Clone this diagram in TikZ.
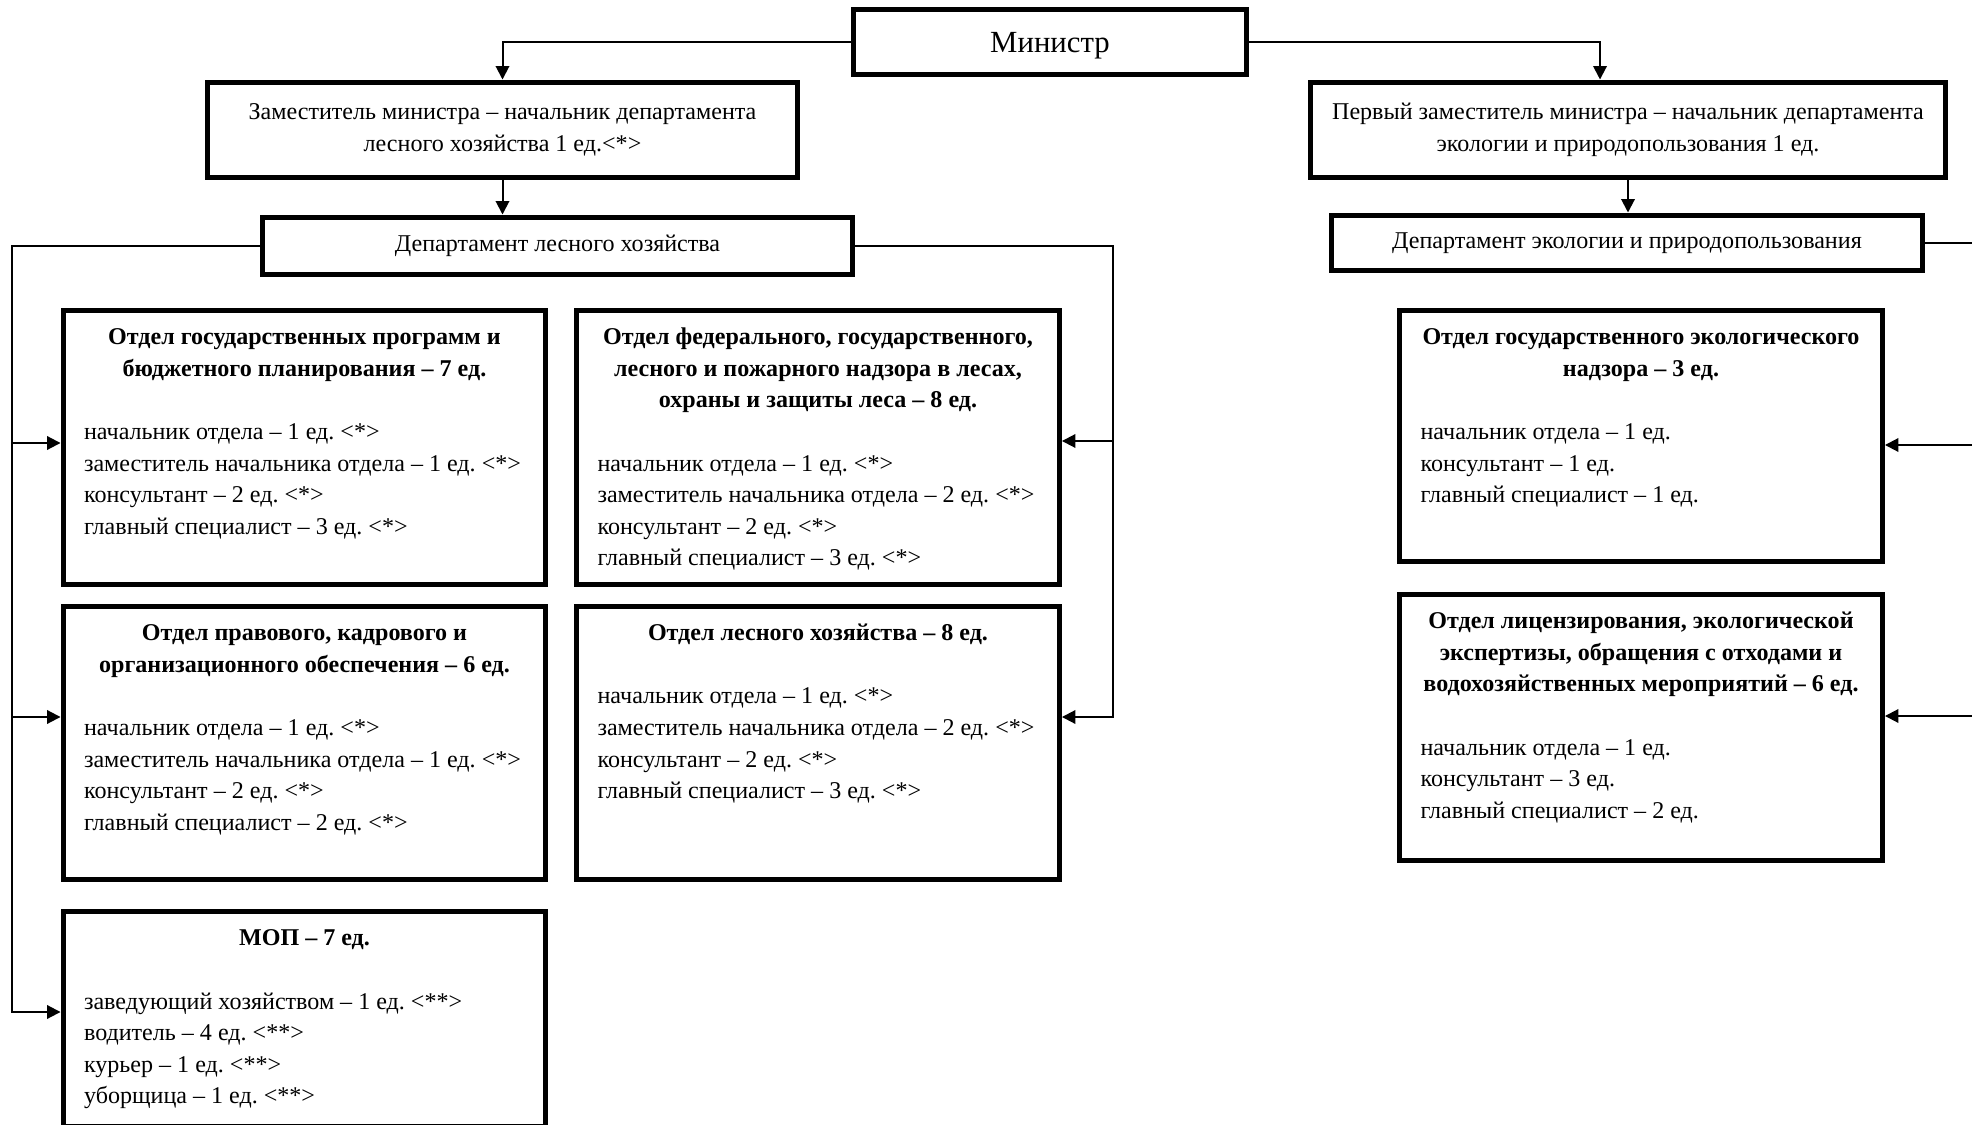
\documentclass[tikz,border=0pt]{standalone}
\usepackage{fontspec}
\setmainfont{Liberation Serif}
\usepackage{tikz}
\usetikzlibrary{positioning,arrows.meta}
\frenchspacing

\begin{document}
\begin{tikzpicture}[x=0.02cm,y=-0.02cm,font=\fontsize{13.7pt}{18pt}\selectfont,
  ramka/.style={draw,line width=0.1cm,inner sep=0pt,align=center},
  otdel/.style={draw,line width=0.1cm,inner xsep=0.42cm,inner ysep=0pt},
  svyaz/.style={line width=0.04cm,-{Triangle[length=0.27cm,width=0.27cm]}}]
\useasboundingbox (0,0) rectangle (1972,1125);

% top of the chart
\node[ramka,minimum width=7.88cm,minimum height=1.32cm,text depth=0pt,font=\fontsize{17.5pt}{20pt}\selectfont] (min) at (1050,42) {Министр};
\node[ramka,minimum width=11.82cm,minimum height=1.92cm] (zam) at (502.5,130) {Заместитель министра – начальник департамента\\лесного хозяйства 1 ед.<*>};
\node[ramka,minimum width=12.72cm,minimum height=1.92cm] (perv) at (1628,130) {Первый заместитель министра – начальник департамента\\экологии и природопользования 1 ед.};
\node[ramka,minimum width=11.82cm,minimum height=1.16cm] (lesDep) at (557.5,246) {Департамент лесного хозяйства};
\node[ramka,minimum width=11.84cm,minimum height=1.12cm] (ekoDep) at (1627,243) {Департамент экологии и природопользования};

% forest departments
\node[otdel] (otdA) at (304.5,447.5) {\parbox[c][5.5cm][t]{8.82cm}{%
\centerline{\bfseries\rule{0pt}{0.69cm}Отдел государственных программ и}
\centerline{\bfseries бюджетного планирования – 7 ед.}
\vspace{18pt}
начальник отдела – 1 ед. <*>\\
заместитель начальника отдела – 1 ед. <*>\\
консультант – 2 ед. <*>\\
главный специалист – 3 ед. <*>}};
\node[otdel] (otdB) at (818,447.5) {\parbox[c][5.5cm][t]{8.82cm}{%
\centerline{\bfseries\rule{0pt}{0.69cm}Отдел федерального, государственного,}
\centerline{\bfseries лесного и пожарного надзора в лесах,}
\centerline{\bfseries охраны и защиты леса – 8 ед.}
\vspace{18pt}
начальник отдела – 1 ед. <*>\\
заместитель начальника отдела – 2 ед. <*>\\
консультант – 2 ед. <*>\\
главный специалист – 3 ед. <*>}};
\node[otdel] (otdC) at (304.5,743) {\parbox[c][5.48cm][t]{8.82cm}{%
\centerline{\bfseries\rule{0pt}{0.69cm}Отдел правового, кадрового и}
\centerline{\bfseries организационного обеспечения – 6 ед.}
\vspace{18pt}
начальник отдела – 1 ед. <*>\\
заместитель начальника отдела – 1 ед. <*>\\
консультант – 2 ед. <*>\\
главный специалист – 2 ед. <*>}};
\node[otdel] (otdD) at (818,743) {\parbox[c][5.48cm][t]{8.82cm}{%
\centerline{\bfseries\rule{0pt}{0.69cm}Отдел лесного хозяйства – 8 ед.}
\vspace{18pt}
начальник отдела – 1 ед. <*>\\
заместитель начальника отдела – 2 ед. <*>\\
консультант – 2 ед. <*>\\
главный специалист – 3 ед. <*>}};
\node[otdel] (otdE) at (304.5,1019) {\parbox[c][4.31cm][t]{8.82cm}{%
\centerline{\bfseries\rule{0pt}{0.69cm}МОП – 7 ед.}
\vspace{18pt}
заведующий хозяйством – 1 ед. <**>\\
водитель – 4 ед. <**>\\
курьер – 1 ед. <**>\\
уборщица – 1 ед. <**>}};

% ecology departments
\node[otdel] (otdF) at (1641,436) {\parbox[c][5.04cm][t]{8.82cm}{%
\centerline{\bfseries\rule{0pt}{0.69cm}Отдел государственного экологического}
\centerline{\bfseries надзора – 3 ед.}
\vspace{18pt}
начальник отдела – 1 ед.\\
консультант – 1 ед.\\
главный специалист – 1 ед.}};
\node[otdel] (otdG) at (1641,727.5) {\parbox[c][5.34cm][t]{8.82cm}{%
\centerline{\bfseries\rule{0pt}{0.69cm}Отдел лицензирования, экологической}
\centerline{\bfseries экспертизы, обращения с отходами и}
\centerline{\bfseries водохозяйственных мероприятий – 6 ед.}
\vspace{18pt}
начальник отдела – 1 ед.\\
консультант – 3 ед.\\
главный специалист – 2 ед.}};

% connectors
\draw[svyaz] (min.west) -| (zam.north);
\draw[svyaz] (min.east) -| ([xshift=-0.56cm]perv.north);
\draw[svyaz] (zam.south) -- (zam.south |- lesDep.north);
\draw[svyaz] (perv.south) -- (perv.south |- ekoDep.north);

\coordinate (lbusA) at (12,443);
\coordinate (lbusC) at (12,717);
\coordinate (lbusE) at (12,1012);
\draw[svyaz] (lesDep.west) -| (lbusE) -- (lbusE -| otdE.west);
\draw[svyaz] (lbusA) -- (lbusA -| otdA.west);
\draw[svyaz] (lbusC) -- (lbusC -| otdC.west);

\coordinate (rbusB) at (1113,441);
\coordinate (rbusD) at (1113,717);
\draw[svyaz] (lesDep.east) -| (rbusD) -- (rbusD -| otdD.east);
\draw[svyaz] (rbusB) -- (rbusB -| otdB.east);

\coordinate (ebusF) at (1990,445);
\coordinate (ebusG) at (1990,716);
\draw[svyaz] (ekoDep.east) -| (ebusG) -- (ebusG -| otdG.east);
\draw[svyaz] (ebusF) -- (ebusF -| otdF.east);
\end{tikzpicture}
\end{document}
